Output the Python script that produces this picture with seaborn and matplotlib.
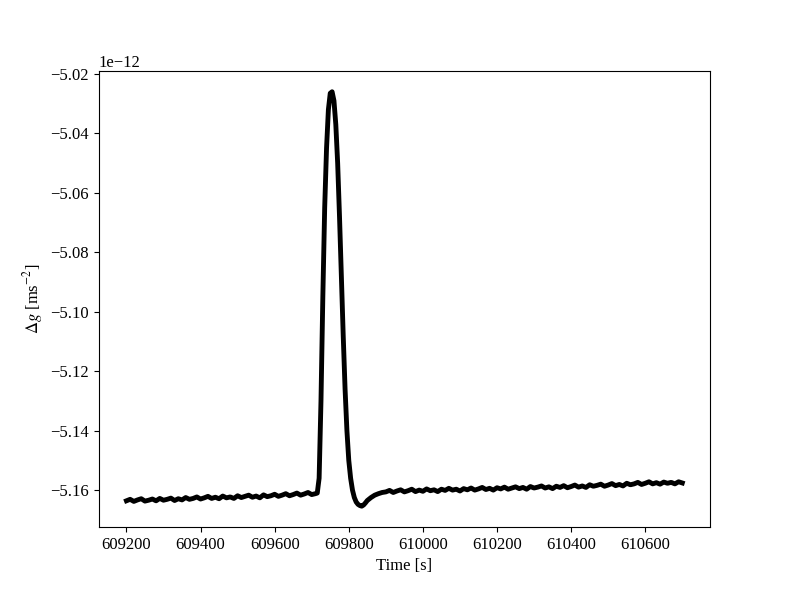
import numpy as np
import pandas as pd
import matplotlib
matplotlib.use("Agg")
import matplotlib.pyplot as plt
import seaborn as sns

# time [s] and delta g [1e-12 m/s^2]
time_before = [609200, 609210, 609220, 609230, 609240, 609250, 609260, 609270, 609280, 609290,
               609300, 609310, 609320, 609330, 609340, 609350, 609360, 609370, 609380, 609390,
               609400, 609410, 609420, 609430, 609440, 609450, 609460, 609470, 609480, 609490,
               609500, 609510, 609520, 609530, 609540, 609550, 609560, 609570, 609580, 609590,
               609600, 609610, 609620, 609630, 609640, 609650, 609660, 609670, 609680, 609690,
               609700, 609710]
dg_before = [-5.1636, -5.1631, -5.1638, -5.1633, -5.1629, -5.1637, -5.1634, -5.1630, -5.1636, -5.1628,
             -5.1634, -5.1631, -5.1627, -5.1635, -5.1629, -5.1633, -5.1625, -5.1631, -5.1628, -5.1623,
             -5.1630, -5.1626, -5.1621, -5.1628, -5.1624, -5.1629, -5.1620, -5.1626, -5.1623, -5.1628,
             -5.1619, -5.1625, -5.1621, -5.1617, -5.1624, -5.1620, -5.1626, -5.1616, -5.1622, -5.1619,
             -5.1614, -5.1621, -5.1617, -5.1612, -5.1619, -5.1615, -5.1610, -5.1617, -5.1613, -5.1608,
             -5.1615, -5.1612]

time_peak = [609715, 609720, 609725, 609730, 609735, 609740, 609745, 609750, 609755, 609760,
             609765, 609770, 609775, 609780, 609785, 609790, 609795, 609800, 609805, 609810,
             609815, 609820, 609825, 609830, 609835, 609840, 609845, 609850, 609860, 609870,
             609880, 609890, 609900]
dg_peak = [-5.1610, -5.1560, -5.1300, -5.0950, -5.0650, -5.0450, -5.0320, -5.0265, -5.0260, -5.0290,
           -5.0370, -5.0500, -5.0680, -5.0880, -5.1080, -5.1260, -5.1400, -5.1500, -5.1560, -5.1600,
           -5.1625, -5.1640, -5.1648, -5.1652, -5.1654, -5.1650, -5.1643, -5.1635, -5.1625, -5.1617,
           -5.1612, -5.1608, -5.1606]

time_after = [609910, 609920, 609930, 609940, 609950, 609960, 609970, 609980, 609990, 610000,
              610010, 610020, 610030, 610040, 610050, 610060, 610070, 610080, 610090, 610100,
              610110, 610120, 610130, 610140, 610150, 610160, 610170, 610180, 610190, 610200,
              610210, 610220, 610230, 610240, 610250, 610260, 610270, 610280, 610290, 610300,
              610310, 610320, 610330, 610340, 610350, 610360, 610370, 610380, 610390, 610400,
              610410, 610420, 610430, 610440, 610450, 610460, 610470, 610480, 610490, 610500,
              610510, 610520, 610530, 610540, 610550, 610560, 610570, 610580, 610590, 610600,
              610610, 610620, 610630, 610640, 610650, 610660, 610670, 610680, 610690, 610700]
dg_after = [-5.1601, -5.1608, -5.1603, -5.1599, -5.1606, -5.1602, -5.1597, -5.1605, -5.1600, -5.1604,
            -5.1596, -5.1602, -5.1599, -5.1605, -5.1597, -5.1601, -5.1594, -5.1600, -5.1597, -5.1603,
            -5.1595, -5.1599, -5.1593, -5.1600, -5.1596, -5.1591, -5.1598, -5.1594, -5.1600, -5.1592,
            -5.1596, -5.1590, -5.1597, -5.1593, -5.1589, -5.1595, -5.1591, -5.1597, -5.1588, -5.1593,
            -5.1590, -5.1586, -5.1593, -5.1589, -5.1595, -5.1587, -5.1591, -5.1585, -5.1592, -5.1588,
            -5.1583, -5.1590, -5.1586, -5.1591, -5.1582, -5.1587, -5.1584, -5.1580, -5.1587, -5.1583,
            -5.1578, -5.1585, -5.1581, -5.1586, -5.1577, -5.1582, -5.1579, -5.1574, -5.1581, -5.1577,
            -5.1572, -5.1579, -5.1575, -5.1580, -5.1573, -5.1577, -5.1574, -5.1579, -5.1572, -5.1576]

df = pd.DataFrame({
    "time": time_before + time_peak + time_after,
    "dg": np.array(dg_before + dg_peak + dg_after) * 1e-12,
})

plt.rcParams["font.family"] = ["Liberation Serif", "DejaVu Serif"]
plt.rcParams["mathtext.fontset"] = "stix"
plt.rcParams["font.size"] = 12

fig, ax = plt.subplots(figsize=(7.89, 5.92), dpi=100)
sns.lineplot(data=df, x="time", y="dg", color="black", linewidth=3.5, estimator=None,
             sort=False, ax=ax)
ax.set_xlabel("Time [s]")
ax.set_ylabel(r"$\Delta g$ [ms$^{-2}$]")
ax.set_xticks([609200, 609400, 609600, 609800, 610000, 610200, 610400, 610600])

fig.savefig("out.png", dpi=100)
